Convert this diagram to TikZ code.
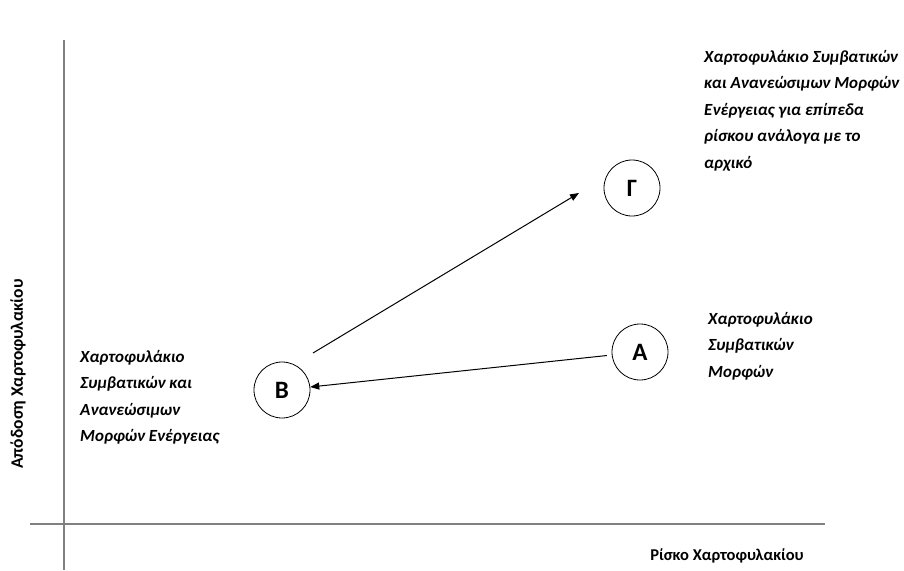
\documentclass[tikz,border=0pt]{standalone}
\usepackage{fontspec}
\setmainfont{Carlito}
\usetikzlibrary{arrows.meta}
\begin{document}
\begin{tikzpicture}[x=1pt,y=-1pt,
  axis/.style={draw=black!50, line width=1.6pt},
  state/.style={circle, draw=black, line width=0.8pt, minimum size=56pt, inner sep=0pt, font=\fontsize{25}{28}\selectfont\bfseries},
  note/.style={align=left, inner sep=0pt, anchor=north west, font=\fontsize{17}{26.5}\selectfont\bfseries\itshape},
  axlabel/.style={inner sep=0pt, font=\fontsize{16.5}{19}\selectfont\bfseries},
  conn/.style={draw=black, line width=1pt, -{Triangle[length=9pt,width=7pt]}}]
\useasboundingbox (0,0) rectangle (904,570);
\draw[axis] (64,40) coordinate (ytop) -- (64,570) coordinate (ybot);
\draw[axis] (30,524) coordinate (xl) -- (825,524) coordinate (xr);
\node[axlabel, rotate=90, font=\fontsize{17.5}{20}\selectfont\bfseries] (ylab) at (18,374) {Απόδοση Χαρτοφυλακίου};
\node[axlabel] (xlab) at (727,556) {Ρίσκο Χαρτοφυλακίου};
\node[state] (G) at (632,188) {Γ};
\node[state] (A) at (640,352) {A};
\node[state] (B) at (282,390) {B};
\node[note] (tG) at (704,50) {Χαρτοφυλάκιο Συμβατικών\\και Ανανεώσιμων Μορφών\\Ενέργειας για επίπεδα\\ρίσκου ανάλογα με το\\αρχικό};
\node[note] (tA) at (708,312) {Χαρτοφυλάκιο\\Συμβατικών\\Μορφών};
\node[note] (tB) at (80,350) {Χαρτοφυλάκιο\\Συμβατικών και\\Ανανεώσιμων\\Μορφών Ενέργειας};
\coordinate (bs) at (313,353);
\coordinate (ge) at (579,193);
\draw[conn] (bs) -- (ge);
\draw[conn, shorten <=5pt] (A) -- (B);
\end{tikzpicture}
\end{document}
